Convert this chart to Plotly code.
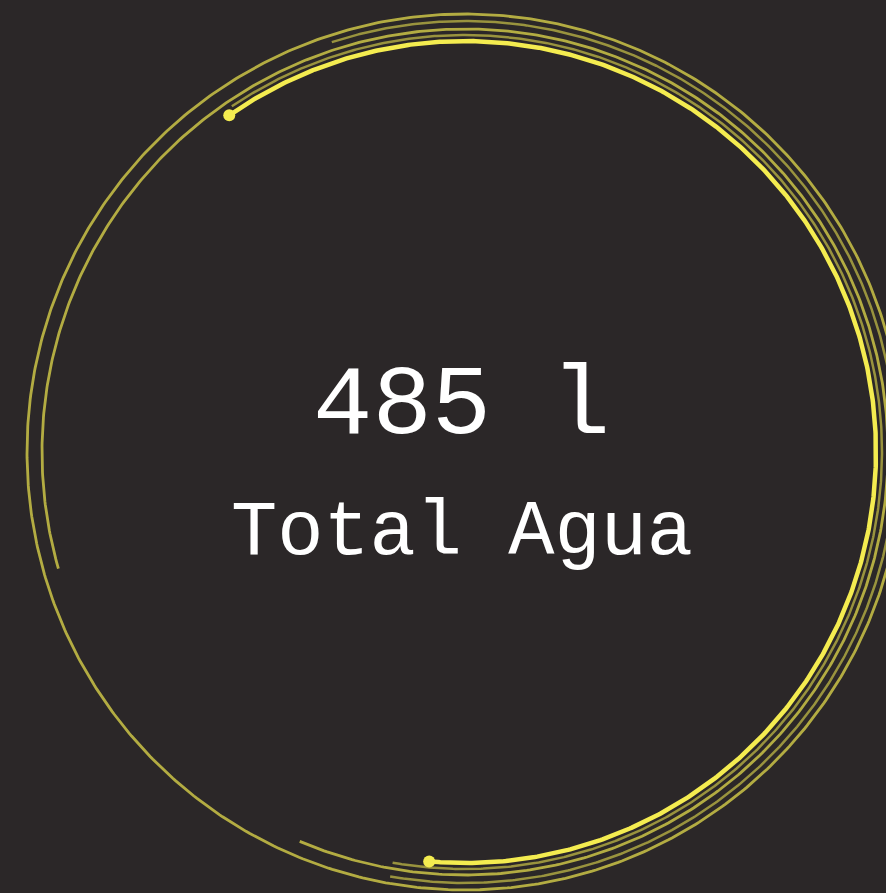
import numpy as np
import plotly.graph_objects as go

# KPI content
kpi_value = 485
kpi_unit = "l"
kpi_label = "Total Agua"

# decorative rings (radius in px, arc start/end angle in degrees, math orientation)
ring_names = ["outer", "second", "third", "fourth", "main"]
ring_radius = [438, 431, 423, 417, 411]
ring_start = [0, 108, -113, 124, 125]
ring_end = [360, -100, 196, -100, -95]
ring_alpha = [0.68, 0.55, 0.68, 0.55, 1.0]
ring_width = [2.8, 2.5, 2.8, 2.5, 4.5]

W, H = 886, 893
CX, CY = 465, 452
BG = "#2b2728"
YEL = (244, 236, 80)

fig = go.Figure()
for name, r, a0, a1, al, lw in zip(ring_names, ring_radius, ring_start, ring_end, ring_alpha, ring_width):
    t = np.radians(np.linspace(a0, a1, 700))
    xs = CX + r * np.cos(t)
    ys = CY - r * np.sin(t)
    fig.add_trace(go.Scatter(
        x=xs, y=ys, mode="lines", name=name, hoverinfo="skip",
        line=dict(color=f"rgba({YEL[0]},{YEL[1]},{YEL[2]},{al})", width=lw),
        showlegend=False))
    if name == "main":
        fig.add_trace(go.Scatter(
            x=[xs[0], xs[-1]], y=[ys[0], ys[-1]], mode="markers", hoverinfo="skip",
            marker=dict(color=f"rgb({YEL[0]},{YEL[1]},{YEL[2]})", size=12),
            showlegend=False))

fig.add_annotation(x=461, y=407, xref="x", yref="y", text=f"{kpi_value} {kpi_unit}",
                   showarrow=False, font=dict(family="Liberation Mono", size=99, color="white"),
                   xanchor="center", yanchor="middle")
fig.add_annotation(x=462, y=533, xref="x", yref="y", text=kpi_label,
                   showarrow=False, font=dict(family="Liberation Mono", size=77, color="white"),
                   xanchor="center", yanchor="middle")

fig.update_layout(
    width=W, height=H, margin=dict(l=0, r=0, t=0, b=0),
    paper_bgcolor=BG, plot_bgcolor=BG,
    xaxis=dict(range=[0, W], visible=False, fixedrange=True),
    yaxis=dict(range=[H, 0], visible=False, fixedrange=True),
)
fig.write_html(
    "out.html",
    config={"displayModeBar": False},
    post_script="document.body.style.margin='0';document.body.style.overflow='hidden';"
                "document.body.style.background='" + BG + "';",
)
